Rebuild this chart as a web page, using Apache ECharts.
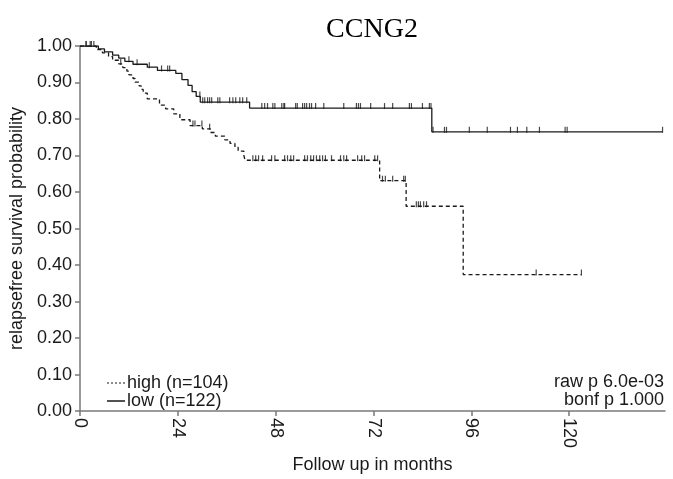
<!DOCTYPE html>
<html lang="en">
  <head>
    <meta charset="UTF-8" />
    <script src="https://cdn.jsdelivr.net/npm/echarts@6/dist/echarts.min.js"></script>
    <title>CCNG2</title>
  </head>
  <body style="margin: 0">
    <div id="chart" style="width: 673px; height: 479px"></div>
  </body>
</html>

<script>
  // Kaplan-Meier steps (months, survival)
  const lowTimes = [0, 4.5, 6, 8, 9.5, 11, 13, 16.5, 19, 23.5, 25, 26.5, 27.5, 28.5, 29.5, 41.6, 86.3];
  const lowSurv = [1, 0.992, 0.984, 0.975, 0.967, 0.958, 0.95, 0.942, 0.933, 0.925, 0.908, 0.892, 0.875, 0.862, 0.846, 0.83, 0.765];
  const lowCensor = [
    1.5, 2.5, 3.4, 12, 14, 17, 20, 21.5, 22, 29.4, 30.1, 30.6, 31.3, 31.8, 32.3, 33.8, 34.3, 36.7, 37.5, 38.2, 39.2,
    39.9, 40.9, 44.6, 45.3, 46, 47.3, 47.8, 49.5, 50, 50.2, 52.9, 53.3, 54.6, 55.1, 55.6, 56.3, 56.8, 57.8, 59.8,
    64.7, 67.8, 68.3, 68.8, 71.3, 74.7, 76.7, 80.8, 81.3, 84, 85.7, 86.1, 86.6, 89.4, 89.9, 95.5, 99.9, 105.6,
    107.3, 109.6, 112.7, 119, 119.5, 142.9,
  ];

  const highTimes = [
    0, 4, 5.5, 7, 8, 9.5, 10.5, 11.5, 12, 13, 13.5, 14.5, 15, 15.5, 16.5, 19.5, 21, 23, 24.5, 27, 30, 32, 33.2,
    35.5, 36.8, 38, 38.8, 40.2, 40.5, 73.5, 80, 94,
  ];
  const highSurv = [
    1, 0.99, 0.981, 0.971, 0.961, 0.951, 0.941, 0.931, 0.921, 0.911, 0.901, 0.891, 0.881, 0.871, 0.855, 0.838,
    0.828, 0.814, 0.798, 0.782, 0.773, 0.763, 0.753, 0.743, 0.733, 0.722, 0.712, 0.7, 0.687, 0.631, 0.561, 0.374,
  ];
  const highCensor = [
    1.5, 2.8, 10, 27.7, 28.2, 29.9, 31.8, 42.4, 43.1, 43.8, 44.8, 47, 47.8, 50.2, 50.9, 51.7, 52.4, 55.1, 55.8,
    56.6, 57.3, 58, 58.8, 59.5, 60.2, 61.7, 63.9, 64.7, 65.4, 68.1, 69.1, 69.8, 72.3, 73, 74.2, 74.9, 76.7, 79.4,
    79.8, 82.5, 83, 83.5, 84.3, 85, 111.9, 123,
  ];

  const xTicks = [0, 24, 48, 72, 96, 120];
  const legendNames = ["high (n=104)", "low (n=122)"];
  const pText = ["raw p 6.0e-03", "bonf p 1.000"];

  const survAt = (times, surv, t) => {
    let s = surv[0];
    for (let i = 0; i < times.length; i++) {
      if (times[i] <= t) s = surv[i];
    }
    return s;
  };

  const curve = (times, surv, censor) => {
    const pts = times.map((t, i) => [t, surv[i]]);
    pts.push([Math.max(...censor), surv[surv.length - 1]]);
    return pts;
  };

  const marks = (times, surv, censor) => censor.map((t) => [t, survAt(times, surv, t)]);

  const font = "Liberation Sans, Arial, sans-serif";
  const ink = "#1a1a1a";
  const axisGrey = "#7a7a7a";

  // legend keys: dotted strip for "high", plain bar for "low"
  const dottedIcon = "path://M0,0h2v1h-2z M4,0h2v1h-2z M8,0h2v1h-2z M12,0h2v1h-2z M16,0h2v1h-2z";

  const censorSeries = (data) => ({
    type: "scatter",
    data: data,
    symbol: "rect",
    symbolSize: [1.2, 6],
    symbolOffset: [0, -2],
    itemStyle: { color: ink },
    silent: true,
    z: 3,
  });

  const chart = echarts.init(document.getElementById("chart"));
  chart.setOption({
    animation: false,
    grid: { left: 80, right: 8, top: 46, bottom: 64 },
    xAxis: {
      type: "value",
      min: 0,
      max: 143.5,
      name: "Follow up in months",
      nameLocation: "middle",
      nameGap: 41,
      nameTextStyle: { fontFamily: font, fontSize: 18, color: ink },
      splitLine: { show: false },
      axisLine: { lineStyle: { color: axisGrey, width: 1.5 } },
      axisTick: { customValues: xTicks, length: 5, lineStyle: { color: axisGrey, width: 1.5 } },
      axisLabel: {
        customValues: xTicks,
        rotate: -90,
        margin: 7,
        fontFamily: font,
        fontSize: 18,
        color: ink,
      },
    },
    yAxis: {
      type: "value",
      min: 0,
      max: 1,
      interval: 0.1,
      name: "relapsefree survival probability",
      nameLocation: "middle",
      nameGap: 49,
      nameTextStyle: { fontFamily: font, fontSize: 18, color: ink },
      splitLine: { show: false },
      axisLine: { show: true, lineStyle: { color: axisGrey, width: 1.5 } },
      axisTick: { show: true, length: 5, lineStyle: { color: axisGrey, width: 1.5 } },
      axisLabel: {
        margin: 8,
        fontFamily: font,
        fontSize: 18,
        color: ink,
        formatter: (v) => v.toFixed(2),
      },
    },
    legend: {
      data: [
        { name: legendNames[0], icon: dottedIcon },
        { name: legendNames[1], icon: "rect" },
      ],
      orient: "vertical",
      left: 107,
      top: 374,
      itemWidth: 18,
      itemHeight: 1.5,
      itemGap: 0,
      padding: 0,
      textStyle: { fontFamily: font, fontSize: 18, color: ink, padding: [0, 0, 0, -3], lineHeight: 16 },
      itemStyle: { color: ink, borderWidth: 0 },
    },
    graphic: [
      {
        type: "text",
        x: 372,
        y: 16,
        style: {
          text: "CCNG2",
          font: "28px 'Liberation Serif', 'Times New Roman', serif",
          fill: "#000",
          align: "center",
          verticalAlign: "top",
        },
      },
      {
        type: "text",
        x: 664,
        y: 373,
        style: { text: pText.join("\n"), font: "18px " + font, fill: ink, align: "right", verticalAlign: "top", lineHeight: 18 },
      },
    ],
    series: [
      {
        name: legendNames[0],
        type: "line",
        step: "end",
        symbol: "none",
        data: curve(highTimes, highSurv, highCensor),
        lineStyle: { color: ink, width: 1.3, type: [4, 3] },
        itemStyle: { color: ink },
      },
      {
        name: legendNames[1],
        type: "line",
        step: "end",
        symbol: "none",
        data: curve(lowTimes, lowSurv, lowCensor),
        lineStyle: { color: ink, width: 1.3 },
        itemStyle: { color: ink },
      },
      censorSeries(marks(highTimes, highSurv, highCensor)),
      censorSeries(marks(lowTimes, lowSurv, lowCensor)),
    ],
  });
</script>
